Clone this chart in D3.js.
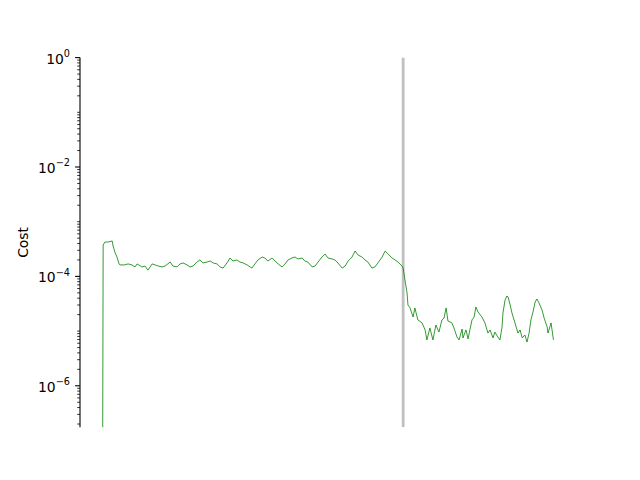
<!DOCTYPE html>
<html>
<head>
<meta charset="utf-8">
<script src="https://cdn.jsdelivr.net/npm/d3@7"></script>
<style>
  body { margin: 0; background: #fff; }
  svg { display: block; font-family: "DejaVu Sans", sans-serif; }
</style>
</head>
<body>
<div id="chart"></div>
<script>
// iterations and cost values
const iters = [0, 2, 8, 18, 32, 35, 42, 48, 55, 58, 72, 85, 98, 108, 115, 131, 141, 151, 165, 175,
  185, 198, 208, 225, 234, 248, 258, 268, 281, 291, 301, 314, 324, 334, 348, 358, 368, 381, 391, 401,
  414, 424, 434, 447, 457, 468, 481, 491, 497, 507, 517, 531, 540, 550, 564, 574, 584, 597, 607, 617,
  630, 640, 650, 664, 673, 683, 697, 707, 717, 730, 740, 750, 764, 773, 783, 797, 807, 817, 830, 840,
  850, 863, 873, 883, 896, 906, 916, 930, 940, 950, 963, 973, 983, 996, 1000, 1006, 1013, 1016, 1023, 1033,
  1039, 1049, 1063, 1073, 1079, 1089, 1099, 1109, 1119, 1129, 1136, 1143, 1149, 1162, 1169, 1179, 1186, 1196, 1199, 1209,
  1216, 1222, 1229, 1236, 1242, 1249, 1262, 1272, 1282, 1289, 1299, 1305, 1315, 1322, 1329, 1332, 1339, 1345, 1349, 1356,
  1362, 1372, 1382, 1389, 1396, 1405, 1412, 1419, 1425, 1432, 1439, 1445, 1452, 1462, 1469, 1479, 1482, 1492, 1500]

const cost = [1e-8, 3.75e-4, 4.25e-4, 4.25e-4, 4.44e-4, 3.6e-4, 2.68e-4, 2.26e-4, 1.69e-4, 1.62e-4,
  1.62e-4, 1.69e-4, 1.62e-4, 1.49e-4, 1.69e-4, 1.49e-4, 1.55e-4, 1.30e-4, 1.69e-4, 1.62e-4,
  1.55e-4, 1.49e-4, 1.55e-4, 1.83e-4, 1.55e-4, 1.49e-4, 1.69e-4, 1.76e-4, 1.62e-4, 1.49e-4,
  1.55e-4, 1.83e-4, 2.00e-4, 1.76e-4, 1.83e-4, 1.91e-4, 1.76e-4, 1.69e-4, 1.49e-4, 1.42e-4,
  1.76e-4, 2.17e-4, 1.91e-4, 2.00e-4, 1.83e-4, 1.76e-4, 1.62e-4, 1.49e-4, 1.42e-4, 1.69e-4,
  2.00e-4, 2.26e-4, 2.17e-4, 1.91e-4, 2.17e-4, 1.91e-4, 1.69e-4, 1.49e-4, 1.69e-4, 2.00e-4,
  2.17e-4, 2.26e-4, 2.08e-4, 2.17e-4, 1.91e-4, 1.83e-4, 1.49e-4, 1.55e-4, 1.83e-4, 2.26e-4,
  2.57e-4, 2.17e-4, 2.08e-4, 2.00e-4, 1.76e-4, 1.42e-4, 1.55e-4, 1.91e-4, 2.26e-4, 2.91e-4,
  2.46e-4, 2.26e-4, 2.00e-4, 1.83e-4, 1.42e-4, 1.49e-4, 1.76e-4, 2.26e-4, 2.91e-4, 2.57e-4,
  2.17e-4, 2.00e-4, 1.83e-4, 1.55e-4, 1.42e-4, 8.6e-5, 4.97e-5, 3.00e-5, 2.65e-5, 1.81e-5,
  2.65e-5, 1.60e-5, 1.41e-5, 1.05e-5, 6.9e-6, 1.14e-5, 6.9e-6, 1.29e-5, 9.6e-6, 1.60e-5,
  1.73e-5, 2.65e-5, 1.53e-5, 1.41e-5, 1.14e-5, 7.8e-6, 6.9e-6, 1.09e-5, 7.5e-6, 1.05e-5,
  7.2e-6, 1.05e-5, 1.60e-5, 1.81e-5, 2.76e-5, 2.24e-5, 1.81e-5, 1.41e-5, 9.2e-6, 1.05e-5,
  7.5e-6, 9.6e-6, 7.8e-6, 6.9e-6, 1.19e-5, 2.14e-5, 3.70e-5, 4.38e-5, 4.20e-5, 3.00e-5,
  2.14e-5, 1.41e-5, 9.2e-6, 1.05e-5, 7.5e-6, 8.5e-6, 6.3e-6, 9.2e-6, 1.60e-5, 2.24e-5,
  3.40e-5, 3.86e-5, 3.27e-5, 2.43e-5, 1.73e-5, 1.19e-5, 9.2e-6, 1.41e-5, 6.9e-6]

const switchIter = 1000
const yMajor = [1, 1e-2, 1e-4, 1e-6]
const yMajorLabels = ['0', '2', '4', '6']

const width = 640
const height = 480
const margin = { top: 57.6, right: 64, bottom: 52.8, left: 80 }

const svg = d3.select('#chart')
  .append('svg')
  .attr('width', width)
  .attr('height', height)

const x = d3.scaleLinear()
  .domain([-75, 1575])
  .range([margin.left, width - margin.right])

const y = d3.scaleLog()
  .domain([1.75e-7, 1])
  .range([height - margin.bottom, margin.top])

svg.append('defs').append('clipPath')
  .attr('id', 'plot-area')
  .append('rect')
  .attr('x', margin.left)
  .attr('y', margin.top)
  .attr('width', width - margin.left - margin.right)
  .attr('height', height - margin.top - margin.bottom)

const plot = svg.append('g').attr('clip-path', 'url(#plot-area)')

// switch marker
plot.append('line')
  .attr('x1', x(switchIter))
  .attr('x2', x(switchIter))
  .attr('y1', margin.top)
  .attr('y2', height - margin.bottom)
  .attr('stroke', '#bfbfbf')
  .attr('stroke-width', 2.8)

const data = iters.map((it, i) => [it, cost[i]])

plot.append('path')
  .datum(data)
  .attr('fill', 'none')
  .attr('stroke', 'green')
  .attr('stroke-width', 0.8)
  .attr('stroke-linejoin', 'round')
  .attr('d', d3.line().x(d => x(d[0])).y(d => y(d[1])))

// minor ticks: every 1..9 sub-decade not on a labelled tick
const minor = []
for (let e = -7; e <= 0; e++) {
  for (let m = 1; m <= 9; m++) {
    const v = m * Math.pow(10, e)
    if (v < y.domain()[0] || v > 1) continue
    if (m === 1 && e % 2 === 0) continue
    minor.push(v)
  }
}

const yAxis = svg.append('g')
  .attr('transform', `translate(${margin.left},0)`)

yAxis.append('line')
  .attr('x1', 0).attr('x2', 0)
  .attr('y1', margin.top).attr('y2', height - margin.bottom)
  .attr('stroke', 'black')
  .attr('stroke-width', 1.1)

yAxis.selectAll('.minor')
  .data(minor)
  .enter()
  .append('line')
  .attr('class', 'minor')
  .attr('x1', -2.8).attr('x2', 0)
  .attr('y1', d => y(d)).attr('y2', d => y(d))
  .attr('stroke', 'black')
  .attr('stroke-width', 0.8)

yAxis.selectAll('.major')
  .data(yMajor)
  .enter()
  .append('line')
  .attr('class', 'major')
  .attr('x1', -4.9).attr('x2', 0)
  .attr('y1', d => y(d)).attr('y2', d => y(d))
  .attr('stroke', 'black')
  .attr('stroke-width', 1.1)

const labels = yAxis.selectAll('.lbl')
  .data(yMajor)
  .enter()
  .append('text')
  .attr('class', 'lbl')
  .attr('x', -10)
  .attr('y', d => y(d) + 6)
  .attr('text-anchor', 'end')
  .attr('font-size', 13.9)
  .attr('fill', 'black')

labels.append('tspan').text('10')
labels.append('tspan')
  .attr('dy', -6.5)
  .attr('font-size', 9.7)
  .text((d, i) => (i === 0 ? '' : '\u2212') + yMajorLabels[i])

svg.append('text')
  .attr('transform', `translate(28,${(margin.top + height - margin.bottom) / 2}) rotate(-90)`)
  .attr('text-anchor', 'middle')
  .attr('font-size', 13.9)
  .attr('fill', 'black')
  .text('Cost')
</script>
</body>
</html>
